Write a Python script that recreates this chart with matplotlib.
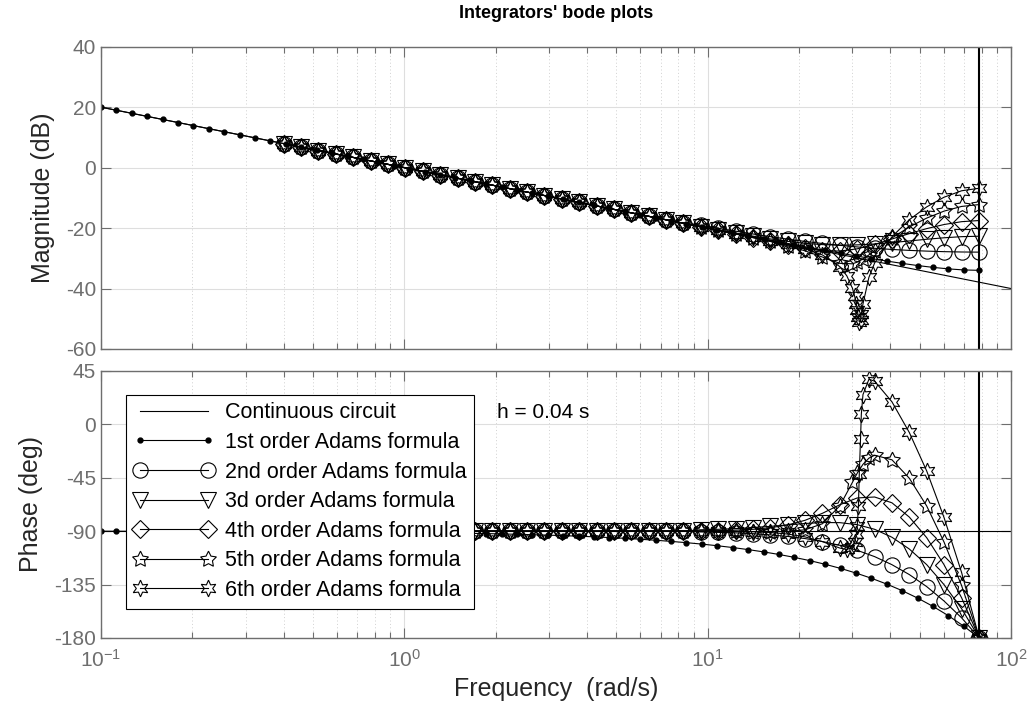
import numpy as np
import matplotlib
matplotlib.use('Agg')
import matplotlib.pyplot as plt
from matplotlib.ticker import LogLocator, NullFormatter

plt.rcParams['font.family'] = ['Liberation Sans', 'DejaVu Sans']
plt.rcParams['axes.unicode_minus'] = False
plt.rcParams['mathtext.fontset'] = 'custom'
plt.rcParams['mathtext.rm'] = 'Liberation Sans'
plt.rcParams['mathtext.it'] = 'Liberation Sans:italic'

# ---- data (h = 0.04 s) ----
nyquist = 78.54

# continuous integrator 1/s
w_cont = [0.1, 100.0]
mag_cont = [20.0, -40.0]
ph_cont = [-90.0, -90.0]

# 1st order Adams (forward Euler)
w_ab1 = [0.1, 0.1124, 0.1264, 0.142, 0.1597, 0.1795, 0.2017, 0.2267, 0.2549, 0.2865,
         0.3221, 0.362, 0.4069, 0.4574, 0.5142, 0.578, 0.6496, 0.7303, 0.8209, 0.9227,
         1.037, 1.166, 1.31, 1.473, 1.656, 1.861, 2.092, 2.351, 2.643, 2.971,
         3.34, 3.754, 4.22, 4.744, 5.332, 5.994, 6.737, 7.573, 8.511, 9.568,
         10.75, 12.09, 13.59, 15.28, 17.17, 19.3, 21.69, 24.39, 27.41, 30.81,
         34.63, 38.93, 43.76, 49.19, 55.29, 62.15, 69.86, 78.54]
mag_ab1 = [20.0, 18.98, 17.97, 16.95, 15.94, 14.92, 13.91, 12.89, 11.87, 10.86,
           9.84, 8.83, 7.81, 6.79, 5.78, 4.76, 3.75, 2.73, 1.72, 0.7,
           -0.32, -1.33, -2.35, -3.36, -4.38, -5.4, -6.41, -7.43, -8.44, -9.46,
           -10.47, -11.48, -12.5, -13.51, -14.52, -15.53, -16.54, -17.55, -18.56, -19.56,
           -20.56, -21.56, -22.55, -23.54, -24.52, -25.49, -26.45, -27.4, -28.32, -29.22,
           -30.08, -30.91, -31.68, -32.39, -33.0, -33.5, -33.85, -33.98]
ph_ab1 = [-90.11, -90.13, -90.14, -90.16, -90.18, -90.21, -90.23, -90.26, -90.29, -90.33,
          -90.37, -90.41, -90.47, -90.52, -90.59, -90.66, -90.74, -90.84, -90.94, -91.06,
          -91.19, -91.34, -91.5, -91.69, -91.9, -92.13, -92.4, -92.69, -93.03, -93.4,
          -93.83, -94.3, -94.84, -95.44, -96.11, -96.87, -97.72, -98.68, -99.75, -100.96,
          -102.32, -103.85, -105.57, -107.51, -109.67, -112.12, -114.85, -117.95, -121.41, -125.31,
          -129.68, -134.61, -140.15, -146.37, -153.36, -161.22, -170.05, -180.0]

# orders 2..6: low-frequency part where all sit on the 1/s line
w_low = [0.4, 0.456, 0.521, 0.594, 0.678, 0.774, 0.883, 1.007, 1.149, 1.312,
         1.497, 1.708, 1.95, 2.225, 2.539, 2.897, 3.306, 3.773, 4.3, 4.91,
         5.6, 6.39, 7.29, 8.32]
mag_low = [7.96, 6.82, 5.66, 4.52, 3.38, 2.23, 1.08, -0.06, -1.21, -2.36,
           -3.5, -4.65, -5.8, -6.95, -8.09, -9.24, -10.39, -11.53, -12.67, -13.82,
           -14.96, -16.11, -17.26, -18.4]
ph_low = [-90.0] * 24

# orders 2..6: high-frequency part
w_high = [9.49, 10.83, 12.36, 14.1, 16.09, 18.36, 20.95, 23.9, 27.27, 31.12,
          35.51, 40.5, 46.2, 52.7, 60.1, 68.7, 78.54]
mag_ab2 = [-19.06, -20.06, -21.03, -21.96, -22.84, -23.66, -24.42, -25.1, -25.71, -26.24,
           -26.69, -27.07, -27.38, -27.62, -27.8, -27.91, -27.96]
ph_ab2 = [-90.7, -91.1, -91.5, -92.2, -93.2, -94.5, -96.3, -98.8, -102.0, -106.2,
          -111.5, -118.3, -126.6, -136.7, -148.8, -163.0, -180.0]
mag_ab3 = [-19.48, -20.57, -21.64, -22.66, -23.59, -24.4, -25.05, -25.47, -25.64, -25.56,
           -25.26, -24.8, -24.26, -23.7, -23.21, -22.84, -22.69]
ph_ab3 = [-88.9, -88.5, -87.9, -87.0, -86.0, -84.8, -83.6, -82.8, -82.9, -84.6,
          -88.5, -95.2, -105.1, -118.2, -135.0, -155.3, -180.0]
mag_ab4 = [-19.6, -20.77, -21.96, -23.17, -24.4, -25.59, -26.69, -27.47, -27.6, -26.86,
           -25.42, -23.61, -21.83, -20.18, -18.83, -17.88, -17.5]
ph_ab4 = [-89.8, -89.6, -89.2, -88.5, -87.2, -84.8, -80.9, -75.0, -67.8, -62.1,
          -61.3, -66.2, -78.2, -95.5, -118.2, -146.1, -180.0]
mag_ab5 = [-19.57, -20.72, -21.9, -23.13, -24.43, -25.85, -27.54, -29.59, -31.66, -31.26,
           -27.46, -23.26, -19.64, -16.7, -14.4, -12.84, -12.22]
ph_ab5 = [-90.1, -90.2, -90.3, -90.4, -90.5, -90.3, -88.9, -83.8, -68.7, -41.2,
          -26.1, -30.0, -45.5, -68.8, -99.1, -135.8, -180.0]
mag_ab6 = [-19.55, -20.75, -21.82, -22.97, -24.14, -25.38, -26.84, -28.89, -32.75, -47.15,
           -31.54, -22.87, -17.23, -13.0, -9.8, -7.66, -6.82]
ph_ab6 = [-90.0, -90.1, -90.2, -90.5, -91.2, -92.5, -94.9, -98.9, -104.3, -85.6,
          36.2, 18.8, -7.0, -39.3, -78.4, -124.8, -180.0]

# extra points around the resonance (denser markers there)
w_ab5_res = [30.0, 32.5, 34.0]
mag_ab5_res = [-31.82, -30.23, -28.87]
ph_ab5_res = [-49.0, -33.8, -28.6]
w_ab6_res = [28.75, 30.0, 30.5, 30.9, 31.4, 31.6, 31.9, 32.1, 32.5, 34.0]
mag_ab6_res = [-35.8, -39.88, -42.5, -45.1, -49.5, -51.0, -50.5, -48.4, -45.1, -36.3]
ph_ab6_res = [-105.5, -103.7, -99.1, -92.6, -68.9, -42.2, -12.6, 8.5, 24.9, 37.8]

labels = ['Continuous circuit', '1st order Adams formula', '2nd order Adams formula',
          '3d order Adams formula', '4th order Adams formula', '5th order Adams formula',
          '6th order Adams formula']


def join(wa, ya, wb, yb):
    w = np.concatenate([wa, wb])
    y = np.concatenate([ya, yb])
    idx = np.argsort(w)
    return w[idx], y[idx]


series = []
for mag_h, ph_h in [(mag_ab2, ph_ab2), (mag_ab3, ph_ab3), (mag_ab4, ph_ab4)]:
    w, m = join(w_low, mag_low, w_high, mag_h)
    _, p = join(w_low, ph_low, w_high, ph_h)
    series.append((w, m, p))

for mag_h, ph_h, w_r, m_r, p_r in [(mag_ab5, ph_ab5, w_ab5_res, mag_ab5_res, ph_ab5_res),
                                   (mag_ab6, ph_ab6, w_ab6_res, mag_ab6_res, ph_ab6_res)]:
    w, m = join(w_low, mag_low, w_high, mag_h)
    _, p = join(w_low, ph_low, w_high, ph_h)
    w_all, m_all = join(w, m, w_r, m_r)
    _, p_all = join(w, p, w_r, p_r)
    series.append((w_all, m_all, p_all))

markers = ['o', 'v', 'D', (5, 1, 0), (6, 1, 0)]
msizes = [11, 11, 9, 12, 12]

gray = '#6e6e6e'
fig = plt.figure(figsize=(10.36, 7.2), dpi=100)
ax1 = fig.add_axes([0.0975, 0.5153, 0.8784, 0.4198])
ax2 = fig.add_axes([0.0975, 0.1139, 0.8784, 0.3712])

lw = 0.8
for ax, which in [(ax1, 'mag'), (ax2, 'ph')]:
    yc = mag_cont if which == 'mag' else ph_cont
    ax.plot(w_cont, yc, color='k', lw=lw, label=labels[0])
    y1 = mag_ab1 if which == 'mag' else ph_ab1
    ax.plot(w_ab1, y1, color='k', lw=lw, marker='o', ms=3.5, mfc='k', mec='k',
            label=labels[1])
    for (w, m, p), mk, ms, lab in zip(series, markers, msizes, labels[2:]):
        y = m if which == 'mag' else p
        ax.plot(w, y, color='k', lw=lw, marker=mk, ms=ms, mfc='none', mec='k',
                mew=0.8, label=lab)
    ax.axvline(nyquist, color='k', lw=1.5)

    ax.set_xscale('log')
    ax.set_xlim(0.1, 100)
    ax.xaxis.set_major_locator(LogLocator(base=10, numticks=10))
    ax.xaxis.set_minor_locator(LogLocator(base=10, subs=np.arange(2, 10), numticks=20))
    ax.xaxis.set_minor_formatter(NullFormatter())
    ax.grid(True, which='major', color='#dedede', lw=0.8, ls='-')
    ax.grid(True, which='minor', axis='x', color='#d0d0d0', lw=0.7, ls=(0, (1, 2.5)))
    ax.set_axisbelow(True)
    ax.tick_params(which='both', direction='in', top=True, right=True, color=gray,
                   labelcolor=gray, labelsize=15, width=0.8)
    ax.tick_params(which='major', length=7)
    ax.tick_params(which='minor', length=4)
    for sp in ax.spines.values():
        sp.set_color(gray)
        sp.set_linewidth(1.0)

ax1.set_ylim(-60, 40)
ax1.set_yticks([-60, -40, -20, 0, 20, 40])
ax1.tick_params(axis='x', labelbottom=False)
ax2.set_ylim(-180, 45)
ax2.set_yticks([-180, -135, -90, -45, 0, 45])
ax2.tick_params(axis='x', pad=8)

ax1.set_ylabel('Magnitude (dB)', fontsize=18, color='#262626', labelpad=8)
ax2.set_ylabel('Phase (deg)', fontsize=18, color='#262626', labelpad=8)
ax2.set_xlabel('Frequency  (rad/s)', fontsize=18, color='#262626', labelpad=4)
fig.text(0.5367, 1 - 13 / 720, "Integrators' bode plots", ha='center', va='center',
         fontsize=13, fontweight='bold', color='k')

ax2.text(0.435, 0.845, 'h = 0.04 s', transform=ax2.transAxes, fontsize=15,
         ha='left', va='center', color='k')

leg = ax2.legend(loc='upper left', bbox_to_anchor=(0.027, 0.91), numpoints=2,
                 fontsize=15.5, handlelength=3.8, handletextpad=0.45,
                 labelspacing=0.40, borderpad=0.35, borderaxespad=0.0,
                 fancybox=False, framealpha=1.0, edgecolor='k')
leg.get_frame().set_linewidth(0.8)
for t in leg.get_texts():
    t.set_color('k')

fig.savefig('out.png', dpi=100)
